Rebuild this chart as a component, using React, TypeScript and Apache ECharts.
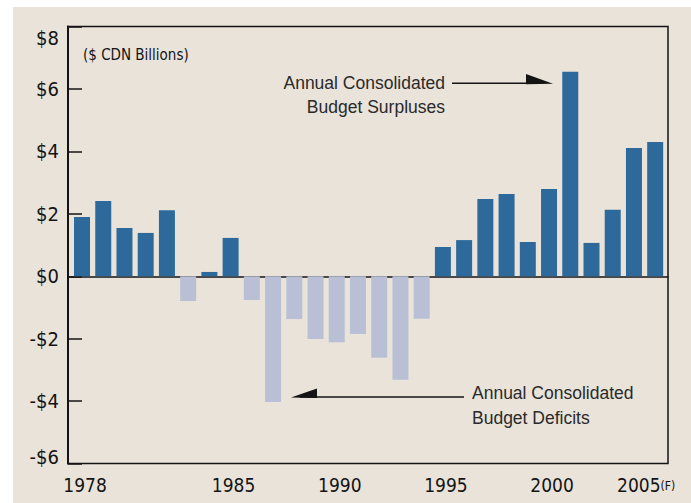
import React, { useEffect, useRef } from 'react';
import * as echarts from 'echarts';

const years = ['1978', '1979', '1980', '1981', '1982', '1983', '1984', '1985', '1986', '1987', '1988', '1989', '1990', '1991', '1992', '1993', '1994', '1995', '1996', '1997', '1998', '1999', '2000', '2001', '2002', '2003', '2004', '2005'];
const balance = [1.90, 2.41, 1.55, 1.39, 2.12, -0.79, 0.14, 1.23, -0.76, -4.03, -1.37, -2.01, -2.11, -1.85, -2.61, -3.31, -1.36, 0.94, 1.16, 2.48, 2.64, 1.10, 2.80, 6.55, 1.07, 2.13, 4.11, 4.30];
const yMin = -6;
const yMax = 8;
const yStep = 2;
const labeledYears = ['1978', '1985', '1990', '1995', '2000', '2005'];
const forecastYear = '2005';
const forecastMark = '(F)';
const unitLabel = '($ CDN Billions)';
const surplusNote = 'Annual Consolidated\nBudget Surpluses';
const deficitNote = 'Annual Consolidated\nBudget Deficits';

const SURPLUS = '#2d6a9b';
const DEFICIT = '#b9c0d5';
const INK = '#141414';
const NARROW = "'Liberation Sans Narrow', 'DejaVu Sans Condensed', 'Arial Narrow', sans-serif";
const LIGHT = "'Liberation Sans', Arial, sans-serif";

export default function App() {
  const ref = useRef<HTMLDivElement>(null);

  useEffect(() => {
    const chart = echarts.init(ref.current!, null, { renderer: 'svg' });
    const fmtMoney = (v: number) => (v < 0 ? `-$${Math.abs(v)}` : `$${v}`);
    const option = {
      animation: false,
      grid: [
        { left: 68, top: 26.6, width: 600, height: 437, show: true, borderColor: INK, borderWidth: 1.5, backgroundColor: 'transparent' },
        { left: 71.4, top: 26.6, width: 594.4, height: 437 },
      ],
      xAxis: [
        {
          gridIndex: 0, type: 'value', min: 0, max: 1,
          axisLine: { show: true, onZero: true, lineStyle: { color: INK, width: 1.5 } },
          axisTick: { show: false }, axisLabel: { show: false }, splitLine: { show: false },
        },
        {
          gridIndex: 1, type: 'category', data: years,
          axisLine: { show: false }, axisTick: { show: false }, splitLine: { show: false },
          axisLabel: {
            interval: (_i: number, v: string) => labeledYears.includes(v),
            margin: 12,
            formatter: (v: string) => (v === forecastYear ? `{y|${v}}{f|${forecastMark}}` : `{y|${v}}`),
            rich: {
              y: { fontSize: 19, fontFamily: NARROW, color: INK, padding: [0, 0, 0, 6] },
              f: { fontSize: 12, fontFamily: NARROW, color: INK, padding: [2, 24, 0, 0] },
            },
          },
        },
      ],
      yAxis: [
        {
          gridIndex: 0, type: 'value', min: yMin, max: yMax, interval: yStep,
          axisLine: { show: true, lineStyle: { color: INK, width: 2 } },
          axisTick: { show: true, inside: true, length: 14, lineStyle: { color: INK, width: 1.5 } },
          splitLine: { show: false },
          axisLabel: {
            margin: 9,
            formatter: (v: number) => {
              const t = fmtMoney(v);
              if (v === yMax) return `{s| }\n{n|${t}}`;
              if (v === yMin) return `{n|${t}}\n{b| }`;
              return `{n|${t}}`;
            },
            rich: {
              n: { fontSize: 20, lineHeight: 22, fontFamily: NARROW, color: INK },
              s: { fontSize: 6, lineHeight: 22 },
              b: { fontSize: 6, lineHeight: 14 },
            },
          },
        },
        { gridIndex: 1, type: 'value', min: yMin, max: yMax, interval: yStep, show: false, splitLine: { show: false } },
      ],
      series: [
        {
          type: 'bar', xAxisIndex: 1, yAxisIndex: 1, data: balance, barWidth: 16,
          itemStyle: { color: (p: any) => (p.value >= 0 ? SURPLUS : DEFICIT) },
        },
      ],
      graphic: [
        { type: 'text', silent: true, style: { text: unitLabel, x: 83, y: 55, fontSize: 15, fontFamily: NARROW, fill: INK, align: 'left', verticalAlign: 'middle' } },
        { type: 'text', silent: true, style: { text: surplusNote, x: 445, y: 95, fontSize: 17.5, lineHeight: 24, fontFamily: LIGHT, fill: '#2a2a2a', align: 'right', verticalAlign: 'middle' } },
        { type: 'line', silent: true, shape: { x1: 452, y1: 83.3, x2: 540, y2: 83.3 }, style: { stroke: INK, lineWidth: 1.5 } },
        { type: 'polygon', silent: true, shape: { points: [[526, 74], [553, 83.8], [526, 84.3]] }, style: { fill: INK } },
        { type: 'text', silent: true, style: { text: deficitNote, x: 472, y: 405.5, fontSize: 17.5, lineHeight: 25, fontFamily: LIGHT, fill: '#2a2a2a', align: 'left', verticalAlign: 'middle' } },
        { type: 'line', silent: true, shape: { x1: 300, y1: 397, x2: 464, y2: 397 }, style: { stroke: INK, lineWidth: 1.5 } },
        { type: 'polygon', silent: true, shape: { points: [[291, 397.6], [317, 388.5], [317, 397.9]] }, style: { fill: INK } },
      ],
    };
    chart.setOption(option as any);
    return () => chart.dispose();
  }, []);

  return (
    <div style={{ position: 'absolute', left: 0, top: 0, width: 691, height: 503, background: '#ffffff', overflow: 'hidden' }}>
      <div style={{ position: 'absolute', left: 13, top: 7, right: 0, bottom: 0, background: '#e9e3da' }} />
      <div ref={ref} style={{ position: 'absolute', left: 0, top: 0, width: 691, height: 503 }} />
    </div>
  );
}
